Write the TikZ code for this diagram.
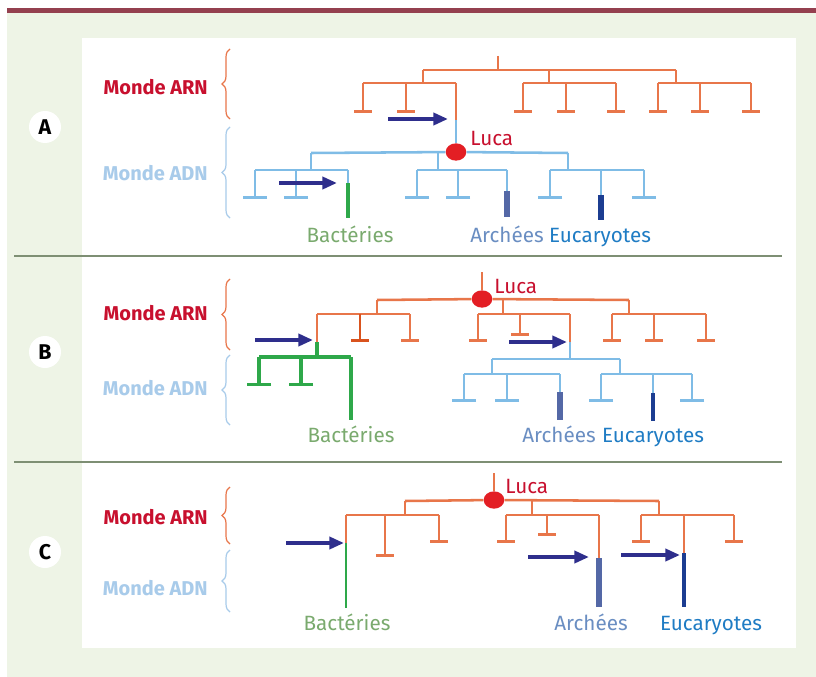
\documentclass[tikz,border=0pt]{standalone}
\usepackage{fontspec}
\setmainfont{Fira Sans}
\usetikzlibrary{arrows.meta,shapes.geometric,decorations.pathreplacing}
\definecolor{bgcol}{HTML}{EEF4E6}
\definecolor{barcol}{HTML}{94404F}
\definecolor{sepcol}{HTML}{7E8F74}
\definecolor{arncol}{HTML}{E8764A}
\definecolor{arndark}{HTML}{D9531E}
\definecolor{adncol}{HTML}{7FBCE6}
\definecolor{bactcol}{HTML}{2EA84A}
\definecolor{navycol}{HTML}{2E2E8C}
\definecolor{archcol}{HTML}{5468A6}
\definecolor{eucol}{HTML}{1C3D91}
\definecolor{lucacol}{HTML}{E31E24}
\definecolor{redtxt}{HTML}{C8102E}
\definecolor{adntxt}{HTML}{A8CBEA}
\definecolor{bacttxt}{HTML}{7AAA6E}
\definecolor{archtxt}{HTML}{6A8EC2}
\definecolor{eutxt}{HTML}{1F7CC4}

\begin{document}
\begin{tikzpicture}[x=0.75pt,y=-0.75pt,>={Triangle[length=11pt,width=9pt]},
  arn/.style={draw=arncol,line width=1.9pt},
  adn/.style={draw=adncol,line width=1.9pt},
  bact/.style={draw=bactcol,line width=2.4pt},
  tee/.style={-{Bar[width=13pt]}},
  widetee/.style={-{Bar[width=18pt]}},
  transfer/.style={->,draw=navycol,line width=2.8pt},
  bigtransfer/.style={->,draw=navycol,line width=3.6pt},
  luca/.style={ellipse,fill=lucacol,inner sep=0pt,minimum width=15.5pt,minimum height=13pt},
  lucatxt/.style={anchor=west,text=redtxt,font=\fontsize{15.5}{18}\selectfont,inner sep=0pt},
  lab/.style={anchor=base,font=\fontsize{15.5}{18}\selectfont,inner sep=0pt},
  monde/.style={anchor=east,font=\fontsize{15}{18}\selectfont\bfseries,inner sep=0pt},
  brace/.style={decorate,decoration={brace,amplitude=6pt},line width=0.9pt},
  letter/.style={circle,fill=white,minimum size=24pt,inner sep=0pt,font=\fontsize{16}{18}\selectfont\bfseries}]

\useasboundingbox (0,0) rectangle (816,677);
\fill[bgcol] (7,13) rectangle (816,677);
\fill[barcol] (7,8) rectangle (816,13);
\fill[white] (82,38) rectangle (796,648);
\draw[sepcol,line width=2.2pt] (14,256) -- (782,256) (14,462) -- (782,462);

\node[letter] (lettA) at (45,127) {A};
\node[letter] (lettB) at (45,352) {B};
\node[letter] (lettC) at (45,552) {C};

\node[monde,text=redtxt] (arnA) at (208,87) {Monde ARN};
\node[monde,text=adntxt] (adnA) at (208,173) {Monde ADN};
\node[monde,text=redtxt] (arnB) at (208,313) {Monde ARN};
\node[monde,text=adntxt] (adnB) at (208,388) {Monde ADN};
\node[monde,text=redtxt] (arnC) at (208,517) {Monde ARN};
\node[monde,text=adntxt] (adnC) at (208,588) {Monde ADN};

\draw[brace,arncol] (230,119) -- (230,49);
\draw[brace,adntxt] (230,218) -- (230,127);
\draw[brace,arncol] (230,350) -- (230,279);
\draw[brace,adntxt] (230,425) -- (230,355);
\draw[brace,arncol] (230,544) -- (230,487);
\draw[brace,adntxt] (230,612) -- (230,550);

\draw[arn] (498,56) -- (498,70) (423,70) -- (676,70);
\draw[arn] (423,70) -- (423,83) (363,83) -- (456,83) (456,83) -- (456,120);
\draw[arn] (549,70) -- (549,83) (523,83) -- (616,83);
\draw[arn] (676,70) -- (676,83) (658,83) -- (751,83);
\foreach \x in {363,406,523,566,616,658,700,751} \draw[arn,tee] (\x,83) -- (\x,113);
\node[luca] (lucaA) at (456,152) {};
\node[lucatxt] at (470,139) {Luca};
\draw[adn] (lucaA) -- (456,120);
\draw[adn] (311,153) -- (lucaA) -- (568,153);
\draw[adn] (311,153) -- (311,170) (255,170) -- (348,170) (348,170) -- (348,183);
\draw[adn] (438,153) -- (438,170) (417,170) -- (507,170) (507,170) -- (507,191);
\draw[adn] (568,153) -- (568,170) (550,170) -- (644,170) (601,170) -- (601,195);
\foreach \x in {255,296,417,458,550,644} \draw[adn,widetee] (\x,170) -- (\x,199);
\draw[bact] (348,183) -- (348,218);
\draw[archcol,line width=4.5pt] (507,191) -- (507,217);
\draw[eucol,line width=4.5pt] (601,195) -- (601,220);
\draw[transfer] (388,119) -- (448,119);
\draw[transfer] (279,183) -- (337,183);
\node[lab,text=bacttxt] (bactA) at (350,243) {Bactéries};
\node[lab,text=archtxt] (archA) at (507,243) {Archées};
\node[lab,text=eutxt] (euA) at (600,243) {Eucaryotes};

\node[luca] (lucaB) at (482,299) {};
\node[lucatxt] at (494,287) {Luca};
\draw[arn] (482,272) -- (lucaB);
\draw[arn] (377,300) -- (lucaB) -- (629,300);
\draw[arn] (377,300) -- (377,314) (317,314) -- (410,314) (317,314) -- (317,342);
\draw[arn] (503,300) -- (503,314) (478,314) -- (570,314) (570,314) -- (570,342);
\draw[arn] (629,300) -- (629,314) (612,314) -- (706,314);
\draw[arn,draw=arndark,tee] (360,314) -- (360,342);
\draw[arn,tee] (520,314) -- (520,336);
\foreach \x in {410,478,612,654,706} \draw[arn,tee] (\x,314) -- (\x,342);
\draw[bact] (317,342) -- (317,357) (259,357) -- (351,357) (351,357) -- (351,420);
\foreach \x in {259,301} \draw[bact,widetee] (\x,357) -- (\x,386);
\draw[adn] (570,342) -- (570,359) (492,359) -- (620,359);
\draw[adn] (492,359) -- (492,374) (464,374) -- (560,374) (560,374) -- (560,392);
\draw[adn] (620,359) -- (620,374) (601,374) -- (692,374) (653,374) -- (653,393);
\foreach \x in {464,507,601,692} \draw[adn,widetee] (\x,374) -- (\x,402);
\draw[archcol,line width=4.5pt] (560,392) -- (560,420);
\draw[eucol,line width=2.6pt] (653,393) -- (653,421);
\draw[transfer] (255,340) -- (313,340);
\draw[transfer] (509,342) -- (567,342);
\node[lab,text=bacttxt] (bactB) at (351,442) {Bactéries};
\node[lab,text=archtxt] (archB) at (559,442) {Archées};
\node[lab,text=eutxt] (euB) at (653,442) {Eucaryotes};

\node[luca] (lucaC) at (494,500) {};
\node[lucatxt] at (505,486) {Luca};
\draw[arn] (494,473) -- (lucaC);
\draw[arn] (405,501) -- (lucaC) -- (659,501);
\draw[arn] (405,501) -- (405,515) (346,515) -- (439,515) (346,515) -- (346,543);
\draw[arn] (532,501) -- (532,515) (506,515) -- (599,515) (599,515) -- (599,558);
\draw[arn] (659,501) -- (659,515) (641,515) -- (734,515) (684,515) -- (684,553);
\draw[arn,tee] (385,515) -- (385,557);
\draw[arn,tee] (547,515) -- (547,536);
\foreach \x in {439,506,641,734} \draw[arn,tee] (\x,515) -- (\x,543);
\draw[bact,line width=1.9pt] (346,543) -- (346,608);
\draw[archcol,line width=4.5pt] (599,558) -- (599,607);
\draw[eucol,line width=2.6pt] (684,553) -- (684,607);
\draw[bigtransfer] (286,543) -- (344,543);
\draw[bigtransfer] (528,557) -- (589,557);
\draw[bigtransfer] (621,555) -- (680,555);
\node[lab,text=bacttxt] (bactC) at (347,630) {Bactéries};
\node[lab,text=archtxt] (archC) at (591,630) {Archées};
\node[lab,text=eutxt] (euC) at (711,630) {Eucaryotes};
\end{tikzpicture}
\end{document}
